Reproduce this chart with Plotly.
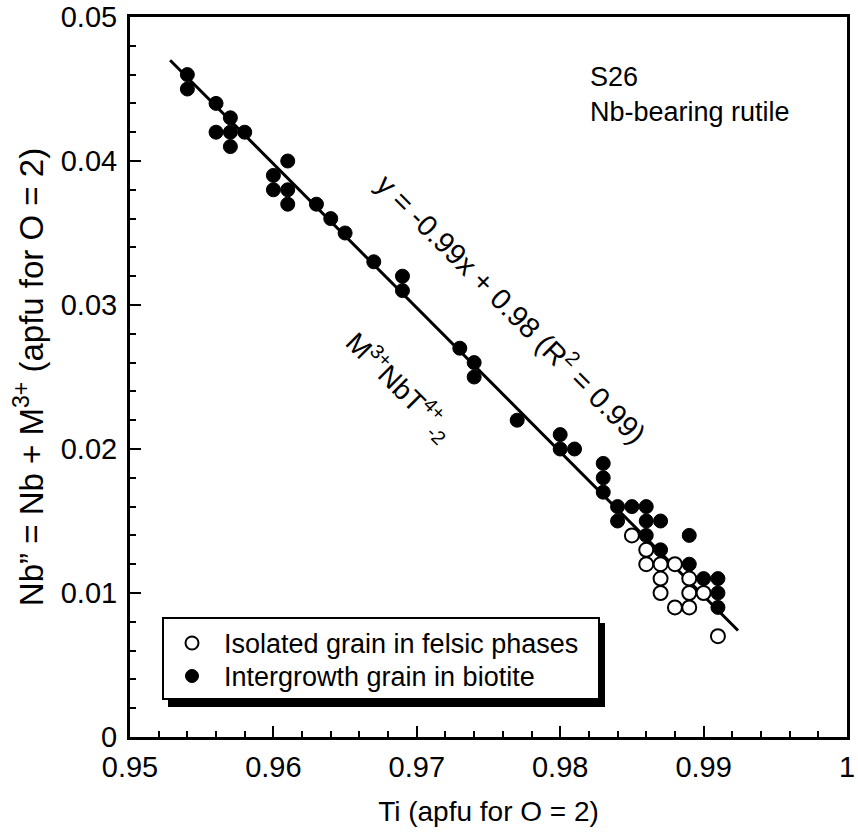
import plotly.graph_objects as go

# ---- data ----
iso_x = [0.985, 0.986, 0.986, 0.987, 0.988, 0.987, 0.989, 0.987, 0.989, 0.990, 0.988, 0.989, 0.991]
iso_y = [0.014, 0.013, 0.012, 0.012, 0.012, 0.011, 0.011, 0.010, 0.010, 0.010, 0.009, 0.009, 0.007]

int_x = [0.954, 0.954, 0.956, 0.957, 0.956, 0.957, 0.958, 0.957, 0.961, 0.960, 0.960, 0.961, 0.961,
         0.963, 0.964, 0.965, 0.967, 0.969, 0.969, 0.973, 0.974, 0.974, 0.977, 0.980, 0.980, 0.981,
         0.983, 0.983, 0.983, 0.984, 0.985, 0.986, 0.984, 0.986, 0.987, 0.986, 0.989, 0.987, 0.989,
         0.990, 0.991, 0.991, 0.991]
int_y = [0.046, 0.045, 0.044, 0.043, 0.042, 0.042, 0.042, 0.041, 0.040, 0.039, 0.038, 0.038, 0.037,
         0.037, 0.036, 0.035, 0.033, 0.032, 0.031, 0.027, 0.026, 0.025, 0.022, 0.021, 0.020, 0.020,
         0.019, 0.018, 0.017, 0.016, 0.016, 0.016, 0.015, 0.015, 0.015, 0.014, 0.014, 0.013, 0.012,
         0.011, 0.011, 0.010, 0.009]

fit_x = [0.9528, 0.9924]
fit_y = [0.0470, 0.0074]

x_tickvals = [0.95, 0.96, 0.97, 0.98, 0.99, 1.0]
x_ticktext = ["0.95", "0.96", "0.97", "0.98", "0.99", "1"]
y_tickvals = [0, 0.01, 0.02, 0.03, 0.04, 0.05]
y_ticktext = ["0", "0.01", "0.02", "0.03", "0.04", "0.05"]

series_names = ["Isolated grain in felsic phases", "Intergrowth grain in biotite"]

FONT = "Liberation Sans, Arial, Helvetica, sans-serif"

L, R, T, B = 130, 11, 17, 103
W, H = 858, 840
PW, PH = W - L - R, H - T - B


def px(xp):
    return (xp - L) / PW


def py(yp):
    return (H - B - yp) / PH


fig = go.Figure()
fig.add_trace(go.Scatter(x=fit_x, y=fit_y, mode="lines", line=dict(color="black", width=3),
                         showlegend=False, hoverinfo="skip"))
fig.add_trace(go.Scatter(x=iso_x, y=iso_y, mode="markers", name=series_names[0], showlegend=False,
                         marker=dict(symbol="circle", size=14, color="white",
                                     line=dict(color="black", width=2))))
fig.add_trace(go.Scatter(x=int_x, y=int_y, mode="markers", name=series_names[1], showlegend=False,
                         marker=dict(symbol="circle", size=14, color="black",
                                     line=dict(color="black", width=1))))

axis_common = dict(showgrid=False, zeroline=False, showline=True, linecolor="black", linewidth=3,
                   mirror=True, ticks="inside", ticklen=11, tickwidth=2, tickcolor="black",
                   automargin=False,
                   tickfont=dict(family=FONT, size=29, color="black"))

fig.update_xaxes(range=[0.95, 1.0], tickmode="array", tickvals=x_tickvals, ticktext=x_ticktext,
                 minor=dict(ticks="inside", ticklen=6, tickwidth=2, tickcolor="black",
                            tick0=0.95, dtick=0.002),
                 ticklabelstandoff=2,
                 title=dict(text="Ti (apfu for O = 2)", font=dict(family=FONT, size=28, color="black"),
                            standoff=20),
                 **axis_common)
fig.update_yaxes(range=[0, 0.05], tickmode="array", tickvals=y_tickvals, ticktext=y_ticktext,
                 minor=dict(ticks="inside", ticklen=6, tickwidth=2, tickcolor="black",
                            tick0=0, dtick=0.002),
                 ticklabelstandoff=4,
                 title=dict(text="Nb\u201d = Nb + M<sup>3+</sup> (apfu for O = 2)",
                            font=dict(family=FONT, size=33, color="black"), standoff=8),
                 **axis_common)

fig.add_annotation(x=0.9767, y=0.0298, xref="x", yref="y", showarrow=False, textangle=45,
                   text="y = -0.99x + 0.98 (R<sup>2</sup> = 0.99)",
                   font=dict(family=FONT, size=29, color="black"))
fig.add_annotation(x=0.9688, y=0.0244, xref="x", yref="y", showarrow=False, textangle=45,
                   text="M<sup>3+</sup>NbT<sup>4+</sup><sub>-2</sub>",
                   font=dict(family=FONT, size=28, color="black"))
fig.add_annotation(x=px(588), y=py(60), xref="paper", yref="paper",
                   showarrow=False, xanchor="left", yanchor="top", align="left",
                   text="S26<br>Nb-bearing rutile",
                   font=dict(family=FONT, size=27, color="black"))

# ---- legend (box with drop shadow) ----
fig.add_shape(type="rect", xref="paper", yref="paper", layer="above",
              x0=px(168), x1=px(605), y0=py(707), y1=py(623),
              fillcolor="black", line=dict(width=0))
fig.add_shape(type="rect", xref="paper", yref="paper", layer="above",
              x0=px(163), x1=px(599), y0=py(699), y1=py(618),
              fillcolor="white", line=dict(color="black", width=2))
r = 6.5
for i, (yc, fill, lw) in enumerate([(643, "white", 2), (676, "black", 1)]):
    fig.add_shape(type="circle", xref="paper", yref="paper", layer="above",
                  x0=px(192 - r), x1=px(192 + r), y0=py(yc + r), y1=py(yc - r),
                  fillcolor=fill, line=dict(color="black", width=lw))
    fig.add_annotation(x=px(222), y=py(yc + 1), xref="paper", yref="paper", showarrow=False,
                       xanchor="left", yanchor="middle", text=series_names[i],
                       font=dict(family=FONT, size=27, color="black"))

fig.update_layout(
    width=W, height=H,
    margin=dict(l=L, r=R, t=T, b=B),
    paper_bgcolor="white", plot_bgcolor="white",
    font=dict(family=FONT, size=29, color="black"),
    showlegend=False,
)

fig.write_html("out.html", config={"displayModeBar": False},
               post_script="document.body.style.margin='0';document.body.style.padding='0';"
                           "document.documentElement.style.overflow='hidden';")
